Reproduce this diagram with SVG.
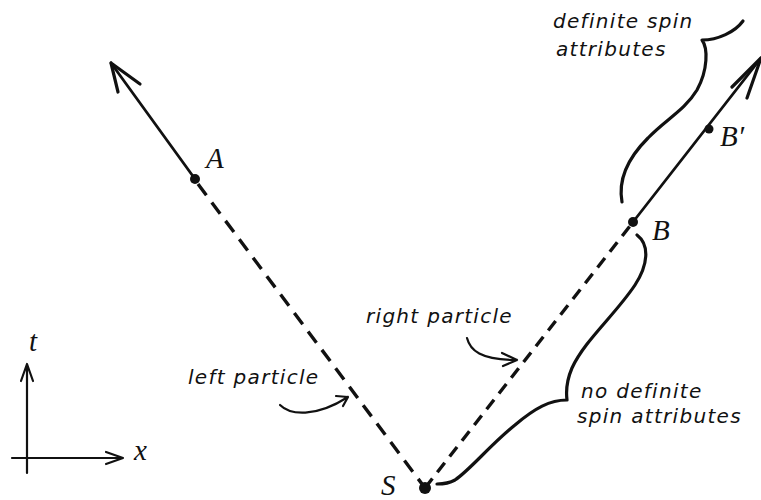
<svg xmlns="http://www.w3.org/2000/svg" width="761" height="500" viewBox="0 0 761 500">
<style>
.lbl{font-family:"DejaVu Sans",Verdana,sans-serif;font-style:italic;font-size:20px;letter-spacing:1.3px;fill:#111}
.math{font-family:"Liberation Serif","Times New Roman",serif;font-style:italic;font-size:29px;fill:#111}
.solid{stroke:#111;stroke-width:2.8;fill:none;stroke-linecap:round}
.dash{stroke:#111;stroke-width:3.4;fill:none;stroke-dasharray:14 9}
.brace{stroke:#111;stroke-width:3.2;fill:none;stroke-linecap:round;stroke-linejoin:round}
.thin{stroke:#111;stroke-width:2.2;fill:none;stroke-linecap:round;stroke-linejoin:round}
.dot{fill:#111}
</style>
<rect width="761" height="500" fill="#fff"/>
<g id="connectors">
  <path class="dash" d="M198,184 L425,488"/>
  <path class="dash" d="M425,488 L630,226" style="stroke-dasharray:12 8"/>
  <path class="solid" d="M195,179 L111,63"/>
  <path class="brace" d="M111,63 L140,84 M111,63 L118,92"/>
  <path class="solid" d="M633,222 L761,58"/>
  <path class="brace" d="M761,58 L732,87 M761,58 L747,98"/>
  <path class="thin" d="M280,405 C290,415 315,418 348,397 M348,397 L336,396 M348,397 L343,406"/>
  <path class="thin" d="M467,338 C470,350 480,360 517,360 M517,360 L502,353 M517,360 L503,366"/>
</g>
<g id="brace-definite">
  <path class="brace" d="M743,21 C735,32 718,40 702,40 C708,48 708,70 697,90 C685,110 665,120 648,138 C628,158 618,180 622,202"/>
  <text class="lbl" x="553" y="28">definite spin</text>
  <text class="lbl" x="556" y="56">attributes</text>
</g>
<g id="brace-nodefinite">
  <path class="brace" d="M637,235 C650,245 648,265 635,285 C615,315 585,340 572,368 C566,382 566,392 567,400 C550,400 535,408 515,425 C490,445 470,470 455,480 C448,484 442,484 437,484"/>
  <text class="lbl" x="581" y="398">no definite</text>
  <text class="lbl" x="577" y="423">spin attributes</text>
</g>
<g id="label-left"><text class="lbl" x="188" y="384">left particle</text></g>
<g id="label-right"><text class="lbl" x="366" y="323">right particle</text></g>
<g id="node-A"><circle class="dot" cx="195" cy="179" r="5"/><text class="math" x="206" y="168">A</text></g>
<g id="node-B"><circle class="dot" cx="633" cy="222" r="5"/><text class="math" x="652" y="240">B</text></g>
<g id="node-Bp"><circle class="dot" cx="709" cy="129" r="4.5"/><text class="math" x="720" y="146">B′</text></g>
<g id="node-S"><circle class="dot" cx="425" cy="488" r="6"/><text class="math" x="381" y="495">S</text></g>
<g id="axes">
  <path class="thin" d="M27,473 L27,364 M21,381 L27,364 L33,381"/>
  <path class="thin" d="M12,458 L123,458 M106,452 L123,458 L106,464"/>
  <text class="math" x="29" y="351">t</text>
  <text class="math" x="134" y="460">x</text>
</g>
</svg>
